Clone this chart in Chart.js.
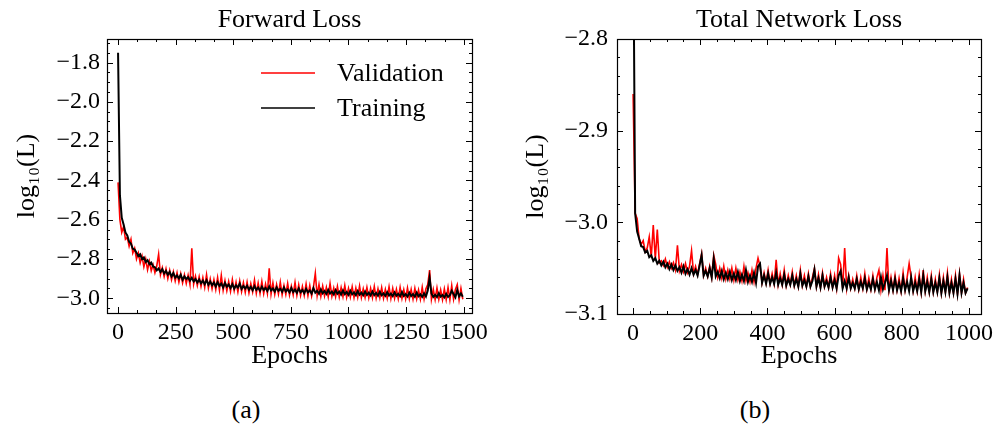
<!DOCTYPE html>
<html>
<head>
<meta charset="utf-8">
<script src="https://cdn.jsdelivr.net/npm/chart.js@4.4.0/dist/chart.umd.min.js"></script>
<style>
  body { margin: 0; background: #fff; width: 998px; height: 425px; position: relative; overflow: hidden; font-family: 'Liberation Serif', serif; }
  #fwd { position: absolute; left: 0; top: 0; }
  #tot { position: absolute; left: 500px; top: 0; }
  .cap { position: absolute; top: 395px; width: 60px; font-size: 26px; line-height: 30px; text-align: center; color: #000; }
</style>
</head>
<body>
<canvas id="fwd" width="500" height="380"></canvas>
<canvas id="tot" width="498" height="380"></canvas>
<div class="cap" style="left:216px">(a)</div>
<div class="cap" style="left:725px">(b)</div>
<script>
// (a) forward loss, one value every 8 epochs
var fwdStep = 8;
var fwdVal = [
  -2.410,-2.600,-2.665,-2.635,-2.700,-2.690,-2.735,-2.700,-2.770,-2.745,
  -2.800,-2.770,-2.820,-2.785,-2.840,-2.800,-2.855,-2.812,-2.860,-2.830,
  -2.870,-2.835,-2.776,-2.880,-2.845,-2.890,-2.850,-2.900,-2.858,-2.905,
  -2.865,-2.912,-2.870,-2.918,-2.875,-2.922,-2.880,-2.925,-2.882,-2.930,
  -2.745,-2.928,-2.888,-2.935,-2.890,-2.940,-2.895,-2.945,-2.880,-2.948,
  -2.902,-2.952,-2.905,-2.955,-2.895,-2.958,-2.884,-2.960,-2.910,-2.962,
  -2.915,-2.965,-2.905,-2.962,-2.918,-2.968,-2.912,-2.966,-2.920,-2.970,
  -2.918,-2.972,-2.925,-2.968,-2.908,-2.974,-2.922,-2.975,-2.915,-2.976,
  -2.928,-2.975,-2.847,-2.978,-2.922,-2.980,-2.930,-2.978,-2.918,-2.982,
  -2.935,-2.980,-2.925,-2.984,-2.938,-2.982,-2.920,-2.985,-2.932,-2.986,
  -2.940,-2.985,-2.928,-2.987,-2.935,-2.988,-2.942,-2.873,-2.986,-2.930,
  -2.990,-2.938,-2.988,-2.945,-2.992,-2.925,-2.990,-2.948,-2.993,-2.940,
  -2.994,-2.946,-2.992,-2.935,-2.995,-2.950,-2.994,-2.942,-2.996,-2.948,
  -2.995,-2.938,-2.997,-2.952,-2.996,-2.945,-2.998,-2.950,-2.997,-2.940,
  -2.999,-2.952,-2.998,-2.946,-3.000,-2.955,-2.999,-2.942,-3.001,-2.950,
  -3.000,-2.954,-3.002,-2.945,-3.001,-2.956,-3.003,-2.948,-3.002,-2.955,
  -3.004,-2.950,-3.003,-2.958,-3.005,-2.944,-3.004,-2.952,-2.930,-2.856,
  -3.005,-2.955,-3.006,-2.948,-3.005,-2.958,-3.007,-2.952,-3.006,-2.945,
  -3.007,-2.935,-3.005,-2.955,-2.930,-3.008,-2.950,-3.005
];
var fwdTrain = [
  -1.750,-2.475,-2.590,-2.625,-2.665,-2.680,-2.712,-2.722,-2.748,-2.752,
  -2.768,-2.785,-2.776,-2.800,-2.792,-2.815,-2.806,-2.826,-2.818,-2.838,
  -2.842,-2.858,-2.848,-2.866,-2.852,-2.874,-2.861,-2.880,-2.866,-2.889,
  -2.872,-2.895,-2.884,-2.899,-2.880,-2.906,-2.889,-2.902,-2.893,-2.911,
  -2.896,-2.914,-2.902,-2.920,-2.905,-2.924,-2.910,-2.928,-2.908,-2.931,
  -2.915,-2.934,-2.920,-2.940,-2.918,-2.937,-2.925,-2.945,-2.922,-2.941,
  -2.930,-2.948,-2.928,-2.951,-2.934,-2.946,-2.925,-2.953,-2.938,-2.950,
  -2.936,-2.956,-2.942,-2.959,-2.938,-2.957,-2.945,-2.962,-2.941,-2.958,
  -2.947,-2.963,-2.940,-2.960,-2.950,-2.966,-2.944,-2.962,-2.952,-2.967,
  -2.945,-2.965,-2.955,-2.970,-2.948,-2.968,-2.956,-2.972,-2.950,-2.969,
  -2.958,-2.974,-2.952,-2.970,-2.960,-2.976,-2.948,-2.972,-2.962,-2.977,
  -2.955,-2.975,-2.963,-2.978,-2.957,-2.976,-2.966,-2.980,-2.958,-2.977,
  -2.966,-2.981,-2.960,-2.979,-2.968,-2.983,-2.962,-2.980,-2.970,-2.984,
  -2.963,-2.982,-2.971,-2.985,-2.965,-2.983,-2.972,-2.986,-2.966,-2.984,
  -2.973,-2.987,-2.967,-2.985,-2.975,-2.988,-2.969,-2.986,-2.976,-2.989,
  -2.970,-2.987,-2.977,-2.990,-2.968,-2.988,-2.978,-2.991,-2.972,-2.989,
  -2.979,-2.992,-2.971,-2.990,-2.980,-2.993,-2.975,-2.991,-2.960,-2.895,
  -2.975,-2.993,-2.982,-2.994,-2.974,-2.992,-2.983,-2.995,-2.977,-2.993,
  -2.984,-2.962,-2.978,-2.995,-2.958,-2.990,-2.975,-2.992
];
var fwdXTicks = [0, 250, 500, 750, 1000, 1250, 1500];
var fwdYTicks = [-3.0, -2.8, -2.6, -2.4, -2.2, -2.0, -1.8];

// (b) total network loss, one value every 6 epochs
var totStep = 6;
var totVal = [
  -2.860,-2.990,-2.996,-3.018,-3.024,-3.020,-3.032,-3.028,-3.016,-3.038,
  -3.003,-3.040,-3.008,-3.044,-3.042,-3.047,-3.040,-3.049,-3.043,-3.050,
  -3.044,-3.052,-3.025,-3.053,-3.046,-3.054,-3.045,-3.055,-3.048,-3.031,
  -3.056,-3.048,-3.057,-3.045,-3.034,-3.058,-3.050,-3.059,-3.048,-3.060,
  -3.036,-3.046,-3.060,-3.050,-3.061,-3.048,-3.062,-3.052,-3.062,-3.050,
  -3.063,-3.050,-3.063,-3.054,-3.064,-3.048,-3.064,-3.055,-3.065,-3.052,
  -3.065,-3.050,-3.039,-3.048,-3.066,-3.055,-3.066,-3.052,-3.067,-3.056,
  -3.067,-3.041,-3.068,-3.056,-3.068,-3.052,-3.069,-3.058,-3.068,-3.054,
  -3.069,-3.058,-3.070,-3.052,-3.069,-3.058,-3.070,-3.056,-3.070,-3.060,
  -3.050,-3.070,-3.057,-3.071,-3.055,-3.070,-3.060,-3.071,-3.056,-3.071,
  -3.058,-3.072,-3.039,-3.046,-3.072,-3.028,-3.072,-3.058,-3.072,-3.062,
  -3.072,-3.058,-3.073,-3.060,-3.072,-3.056,-3.073,-3.061,-3.073,-3.058,
  -3.073,-3.060,-3.052,-3.074,-3.058,-3.074,-3.028,-3.074,-3.060,-3.074,
  -3.058,-3.074,-3.061,-3.075,-3.055,-3.074,-3.060,-3.045,-3.060,-3.075,
  -3.060,-3.075,-3.057,-3.076,-3.052,-3.075,-3.060,-3.076,-3.058,-3.076,
  -3.062,-3.076,-3.057,-3.077,-3.060,-3.076,-3.055,-3.077,-3.062,-3.077,
  -3.058,-3.078,-3.056,-3.077,-3.062,-3.077,-3.071
];
var totTrain = [
  -2.650,-2.990,-3.010,-3.018,-3.026,-3.027,-3.033,-3.031,-3.038,-3.036,
  -3.042,-3.039,-3.045,-3.042,-3.047,-3.043,-3.049,-3.045,-3.051,-3.046,
  -3.052,-3.047,-3.053,-3.049,-3.055,-3.048,-3.056,-3.051,-3.057,-3.050,
  -3.057,-3.052,-3.058,-3.047,-3.036,-3.058,-3.053,-3.059,-3.050,-3.060,
  -3.040,-3.059,-3.054,-3.061,-3.053,-3.062,-3.055,-3.062,-3.054,-3.063,
  -3.056,-3.063,-3.054,-3.064,-3.057,-3.064,-3.052,-3.065,-3.058,-3.065,
  -3.055,-3.066,-3.048,-3.045,-3.066,-3.058,-3.067,-3.056,-3.067,-3.060,
  -3.067,-3.055,-3.068,-3.061,-3.068,-3.057,-3.069,-3.062,-3.068,-3.058,
  -3.069,-3.062,-3.070,-3.056,-3.069,-3.063,-3.070,-3.059,-3.070,-3.064,
  -3.052,-3.070,-3.061,-3.071,-3.058,-3.070,-3.064,-3.071,-3.060,-3.071,
  -3.063,-3.072,-3.058,-3.053,-3.072,-3.064,-3.072,-3.060,-3.072,-3.066,
  -3.072,-3.062,-3.073,-3.065,-3.072,-3.061,-3.073,-3.066,-3.073,-3.062,
  -3.073,-3.065,-3.074,-3.060,-3.073,-3.066,-3.058,-3.074,-3.064,-3.074,
  -3.062,-3.074,-3.066,-3.075,-3.061,-3.074,-3.065,-3.075,-3.060,-3.075,
  -3.066,-3.075,-3.062,-3.076,-3.058,-3.075,-3.065,-3.076,-3.062,-3.076,
  -3.066,-3.076,-3.061,-3.077,-3.064,-3.076,-3.060,-3.077,-3.066,-3.077,
  -3.062,-3.078,-3.058,-3.077,-3.066,-3.077,-3.072
];
var totXTicks = [0, 200, 400, 600, 800, 1000];
var totYTicks = [-3.1, -3.0, -2.9, -2.8];

var RED = '#ff0000', BLACK = '#000000';
var SERIF = "'Liberation Serif', serif";

Chart.defaults.font.family = SERIF;
Chart.defaults.font.size = 24;
Chart.defaults.color = '#000';

function pts(vals, step) {
  return vals.map(function (v, i) { return { x: i * step, y: v }; });
}
function fmt(v, dec) {
  return v.toFixed(dec).replace('-', '\u2212');
}

// box round the plot, inward ticks on all four sides, and the title centred on the axes
var frame = {
  id: 'frame',
  afterDraw: function (chart, args, o) {
    var ctx = chart.ctx, a = chart.chartArea, sx = chart.scales.x, sy = chart.scales.y;
    ctx.save();
    ctx.strokeStyle = '#000';
    ctx.lineWidth = 1;
    ctx.beginPath();
    function xt(v, len) {
      var p = Math.round(sx.getPixelForValue(v)) + 0.5;
      ctx.moveTo(p, a.bottom); ctx.lineTo(p, a.bottom - len);
      ctx.moveTo(p, a.top); ctx.lineTo(p, a.top + len);
    }
    function yt(v, len) {
      var p = Math.round(sy.getPixelForValue(v)) + 0.5;
      ctx.moveTo(a.left, p); ctx.lineTo(a.left + len, p);
      ctx.moveTo(a.right, p); ctx.lineTo(a.right - len, p);
    }
    var k;
    for (k = Math.ceil(sx.min / o.xMinor - 1e-6); k * o.xMinor <= sx.max; k++) xt(k * o.xMinor, 3);
    for (k = Math.ceil(sy.min / o.yMinor - 1e-6); k * o.yMinor <= sy.max + 1e-9; k++) yt(k * o.yMinor, 3);
    o.xTicks.forEach(function (v) { xt(v, 6); });
    o.yTicks.forEach(function (v) { yt(v, 6); });
    ctx.stroke();
    ctx.lineWidth = 1.2;
    ctx.strokeRect(Math.round(a.left) + 0.5, Math.round(a.top) + 0.5, Math.round(a.width), Math.round(a.height));

    ctx.fillStyle = '#000';
    ctx.font = '26px ' + SERIF;
    ctx.textAlign = 'center';
    ctx.textBaseline = 'middle';
    ctx.fillText(o.title, (a.left + a.right) / 2, 20);
    ctx.restore();
  }
};

// legend inside panel (a), top right
var lossLegend = {
  id: 'lossLegend',
  afterDraw: function (chart) {
    var ctx = chart.ctx, a = chart.chartArea;
    var items = [['Validation', RED], ['Training', BLACK]];
    ctx.save();
    ctx.font = '26px ' + SERIF;
    ctx.textBaseline = 'middle';
    ctx.fillStyle = '#000';
    items.forEach(function (it, i) {
      var y = a.top + 34 + i * 35;
      ctx.strokeStyle = it[1];
      ctx.lineWidth = 1.5;
      ctx.beginPath();
      ctx.moveTo(a.right - 211, y); ctx.lineTo(a.right - 157, y);
      ctx.stroke();
      ctx.fillText(it[0], a.right - 135, y + 1);
    });
    ctx.restore();
  }
};

function makeChart(id, o) {
  return new Chart(document.getElementById(id), {
    type: 'line',
    data: {
      datasets: [
        { label: 'Validation', data: pts(o.val, o.step), borderColor: RED, borderWidth: 1.6, pointRadius: 0, tension: 0, order: 1 },
        { label: 'Training', data: pts(o.train, o.step), borderColor: BLACK, borderWidth: 2, pointRadius: 0, tension: 0, order: 0 }
      ]
    },
    options: {
      responsive: false,
      animation: false,
      devicePixelRatio: 1,
      events: [],
      layout: { padding: { left: 0, right: o.padRight, top: 39, bottom: 0 } },
      plugins: {
        legend: { display: false },
        tooltip: { enabled: false },
        title: { display: false },
        frame: { title: o.title, xTicks: o.xTicks, yTicks: o.yTicks, xMinor: o.xMinor, yMinor: o.yMinor }
      },
      scales: {
        x: {
          type: 'linear', min: o.xMin, max: o.xMax,
          grid: { display: false, drawTicks: false }, border: { display: false },
          afterBuildTicks: function (s) { s.ticks = o.xTicks.map(function (v) { return { value: v }; }); },
          ticks: { padding: 5, maxRotation: 0, autoSkip: false, color: '#000', callback: function (v) { return String(v); } },
          title: { display: true, text: 'Epochs', color: '#000', font: { size: 26 }, padding: { top: 0, bottom: 8 } },
          afterFit: function (s) { s.height = o.xH; s.paddingLeft = 0; s.paddingRight = 0; }
        },
        y: {
          type: 'linear', min: o.yMin, max: o.yMax,
          grid: { display: false, drawTicks: false }, border: { display: false },
          afterBuildTicks: function (s) { s.ticks = o.yTicks.map(function (v) { return { value: v }; }); },
          ticks: { padding: o.yPad, autoSkip: false, color: '#000', callback: function (v) { return fmt(v, 1); } },
          title: { display: true, text: 'log\u2081\u2080(L)', color: '#000', font: { size: 26 }, padding: { top: o.yTitlePad, bottom: 0 } },
          afterFit: function (s) { s.width = o.yW; s.paddingTop = 0; s.paddingBottom = 0; }
        }
      }
    },
    plugins: [frame].concat(o.extra || [])
  });
}

makeChart('fwd', {
  title: 'Forward Loss', val: fwdVal, train: fwdTrain, step: fwdStep,
  xTicks: fwdXTicks, yTicks: fwdYTicks, xMinor: 1500 / 18, yMinor: 0.05,
  xMin: -48, xMax: 1536, yMin: -3.075, yMax: -1.68,
  yW: 107, xH: 67, padRight: 28, yPad: 7, yTitlePad: 12,
  extra: [lossLegend]
});

makeChart('tot', {
  title: 'Total Network Loss', val: totVal, train: totTrain, step: totStep,
  xTicks: totXTicks, yTicks: totYTicks, xMinor: 50, yMinor: 0.02,
  xMin: -48, xMax: 1036, yMin: -3.1, yMax: -2.8,
  yW: 117, xH: 66, padRight: 17, yPad: 9, yTitlePad: 21
});
</script>
</body>
</html>
